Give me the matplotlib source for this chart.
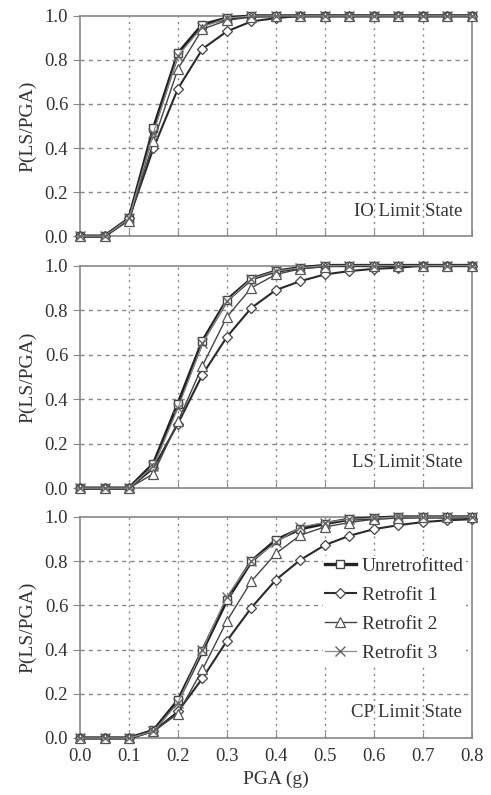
import matplotlib
matplotlib.use("Agg")
import matplotlib.pyplot as plt
import numpy as np

plt.rcParams['font.family'] = ['Liberation Serif', 'DejaVu Serif']

pga = [0.0, 0.05, 0.1, 0.15, 0.2, 0.25, 0.3, 0.35, 0.4, 0.45, 0.5,
       0.55, 0.6, 0.65, 0.7, 0.75, 0.8]

# IO limit state
io_unretro = [0, 0, 0.08, 0.49, 0.83, 0.96, 0.99, 1.0, 1.0, 1.0, 1.0, 1.0, 1.0, 1.0, 1.0, 1.0, 1.0]
io_retro1 = [0, 0, 0.08, 0.40, 0.67, 0.85, 0.93, 0.975, 0.99, 1.0, 1.0, 1.0, 1.0, 1.0, 1.0, 1.0, 1.0]
io_retro2 = [0, 0, 0.07, 0.43, 0.76, 0.94, 0.98, 0.995, 1.0, 1.0, 1.0, 1.0, 1.0, 1.0, 1.0, 1.0, 1.0]
io_retro3 = [0, 0, 0.08, 0.47, 0.82, 0.95, 0.99, 1.0, 1.0, 1.0, 1.0, 1.0, 1.0, 1.0, 1.0, 1.0, 1.0]

# LS limit state
ls_unretro = [0, 0, 0, 0.11, 0.38, 0.66, 0.845, 0.94, 0.975, 0.99, 1.0, 1.0, 1.0, 1.0, 1.0, 1.0, 1.0]
ls_retro1 = [0, 0, 0, 0.09, 0.29, 0.51, 0.68, 0.81, 0.89, 0.93, 0.96, 0.975, 0.985, 0.99, 1.0, 1.0, 1.0]
ls_retro2 = [0, 0, 0, 0.065, 0.30, 0.55, 0.77, 0.90, 0.96, 0.985, 0.995, 1.0, 1.0, 1.0, 1.0, 1.0, 1.0]
ls_retro3 = [0, 0, 0, 0.10, 0.36, 0.65, 0.84, 0.94, 0.975, 0.99, 1.0, 1.0, 1.0, 1.0, 1.0, 1.0, 1.0]

# CP limit state
cp_unretro = [0, 0, 0, 0.034, 0.17, 0.395, 0.625, 0.80, 0.895, 0.947, 0.97, 0.99, 0.995, 1.0, 1.0, 1.0, 1.0]
cp_retro1 = [0, 0, 0, 0.03, 0.12, 0.27, 0.44, 0.59, 0.716, 0.806, 0.873, 0.915, 0.945, 0.963, 0.977, 0.985, 0.99]
cp_retro2 = [0, 0, 0, 0.03, 0.11, 0.31, 0.53, 0.71, 0.835, 0.918, 0.955, 0.975, 0.99, 0.995, 1.0, 1.0, 1.0]
cp_retro3 = [0, 0, 0, 0.03, 0.16, 0.40, 0.64, 0.80, 0.885, 0.955, 0.975, 0.99, 0.995, 1.0, 1.0, 1.0, 1.0]

names = ["Unretrofitted", "Retrofit 1", "Retrofit 2", "Retrofit 3"]
panels = [("IO Limit State", [io_unretro, io_retro1, io_retro2, io_retro3]),
          ("LS Limit State", [ls_unretro, ls_retro1, ls_retro2, ls_retro3]),
          ("CP Limit State", [cp_unretro, cp_retro1, cp_retro2, cp_retro3])]

styles = [dict(color="#222222", lw=2.4, marker="s", ms=6, mec="#444444", mfc="white", mew=1.0),
          dict(color="#2a2a2a", lw=1.5, marker="D", ms=5, mec="#444444", mfc="white", mew=0.9),
          dict(color="#444444", lw=1.0, marker="^", ms=6.5, mec="#555555", mfc="white", mew=0.9),
          dict(color="#8a8a8a", lw=0.9, marker="x", ms=6.5, mec="#666666", mfc="white", mew=1.0)]

fig = plt.figure(figsize=(4.91, 7.95), dpi=100)
boxes = [[0.163, 0.703, 0.798, 0.277],
         [0.163, 0.386, 0.798, 0.280],
         [0.163, 0.0717, 0.798, 0.278]]

for i, (title, series) in enumerate(panels):
    ax = fig.add_axes(boxes[i])
    for vals, name, st in zip(series, names, styles):
        ax.plot(pga, vals, label=name, clip_on=False, zorder=3, **st)
    ax.set_xlim(0, 0.8)
    ax.set_ylim(0, 1.0)
    ax.set_xticks(np.arange(0, 0.81, 0.1))
    ax.set_yticks(np.arange(0, 1.01, 0.2))
    ax.set_yticklabels(["%.1f" % v for v in np.arange(0, 1.01, 0.2)])
    for x in np.arange(0.1, 0.8, 0.1):
        ax.axvline(x, color="#888888", ls=(0, (1.5, 3)), lw=1.0, zorder=1)
    for y in np.arange(0.2, 0.9, 0.2):
        ax.axhline(y, color="#888888", ls=(0, (3, 3)), lw=1.0, zorder=1)
    for s in ax.spines.values():
        s.set_color("#888888")
        s.set_linewidth(1.2)
    ax.tick_params(axis="x", direction="in", length=4, color="#888888", labelsize=13.5,
                   labelcolor="#333333", pad=7)
    ax.tick_params(axis="y", direction="out", length=5, color="#888888", labelsize=13.5,
                   labelcolor="#333333")
    ax.set_ylabel("P(LS/PGA)", fontsize=14, color="#333333", labelpad=6)
    ax.text(0.975, 0.075, title, transform=ax.transAxes, ha="right", va="bottom",
            fontsize=13.5, color="#333333")
    if i < 2:
        ax.set_xticklabels([])
    else:
        ax.set_xticklabels(["%.1f" % v for v in np.arange(0, 0.81, 0.1)])
        ax.set_xlabel("PGA (g)", fontsize=14, color="#333333", labelpad=4)
        leg = ax.legend(loc="upper left", bbox_to_anchor=(0.62, 0.825), frameon=True,
                        fontsize=14, handlelength=1.6, labelspacing=0.58, handletextpad=0.3,
                        borderaxespad=0, borderpad=0.1, fancybox=False)
        leg.get_frame().set_facecolor("white")
        leg.get_frame().set_edgecolor("none")
        leg.get_frame().set_alpha(1.0)
        leg.set_zorder(5)
        for t in leg.get_texts():
            t.set_color("#333333")

fig.savefig("out.png", dpi=100)
